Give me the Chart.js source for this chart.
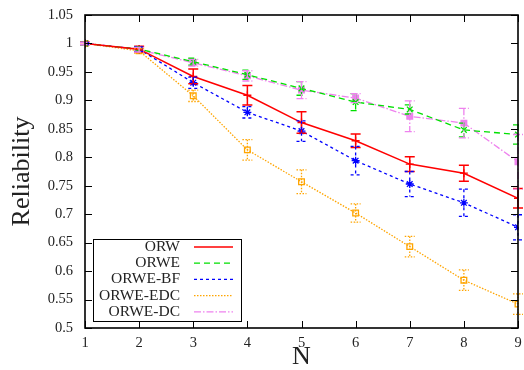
<!DOCTYPE html>
<html>
<head>
<meta charset="utf-8">
<script src="https://cdn.jsdelivr.net/npm/chart.js@4.4.1/dist/chart.umd.min.js"></script>
<style>
  html, body { margin: 0; padding: 0; background: #fff; }
  #wrap { width: 524px; height: 370px; }
</style>
</head>
<body>
<div id="wrap"><canvas id="chart" width="524" height="370"></canvas></div>
<script>
// values
var N = [1, 2, 3, 4, 5, 6, 7, 8, 9];
var yTicks = [0.5, 0.55, 0.6, 0.65, 0.7, 0.75, 0.8, 0.85, 0.9, 0.95, 1, 1.05];

var orw      = [1.000, 0.990, 0.942, 0.909, 0.861, 0.829, 0.788, 0.772, 0.728];
var orwErr   = [0.002, 0.005, 0.013, 0.017, 0.019, 0.012, 0.013, 0.014, 0.017];
var orwe     = [1.000, 0.990, 0.968, 0.945, 0.921, 0.897, 0.884, 0.848, 0.840];
var orweErr  = [0.002, 0.004, 0.006, 0.008, 0.012, 0.015, 0.008, 0.012, 0.017];
var orweBf   = [1.000, 0.990, 0.931, 0.879, 0.846, 0.794, 0.753, 0.720, 0.677];
var orweBfErr  = [0.002, 0.004, 0.010, 0.010, 0.018, 0.025, 0.022, 0.024, 0.022];
var orweEdc  = [1.000, 0.987, 0.908, 0.813, 0.757, 0.702, 0.643, 0.584, 0.542];
var orweEdcErr = [0.002, 0.004, 0.010, 0.018, 0.021, 0.016, 0.018, 0.018, 0.018];
var orweDc   = [1.000, 0.989, 0.966, 0.943, 0.918, 0.904, 0.872, 0.860, 0.792];
var orweDcErr  = [0.002, 0.004, 0.006, 0.009, 0.015, 0.008, 0.027, 0.026, 0.048];

var serif = "'Liberation Serif', 'DejaVu Serif', serif";

function pts(vals) {
    return N.map(function (n, i) { return { x: n, y: vals[i] }; });
}

function series(label, vals, errs, color, dash, width, style, fill) {
    return {
        label: label,
        data: pts(vals),
        errors: errs,
        borderColor: color,
        backgroundColor: fill,
        borderDash: dash,
        borderWidth: width,
        pointStyle: style,
        pointRadius: 4,
        pointBorderColor: color,
        pointBackgroundColor: fill,
        pointBorderWidth: 1.3,
        tension: 0,
        fill: false
    };
}

// vertical error bars with caps, in the dataset's colour and dash
var errorBars = {
    id: 'errorBars',
    afterDatasetsDraw: function (chart) {
        var ctx = chart.ctx;
        var ys = chart.scales.y;
        chart.data.datasets.forEach(function (ds, di) {
            var meta = chart.getDatasetMeta(di);
            ctx.save();
            ctx.strokeStyle = ds.borderColor;
            ctx.lineWidth = ds.borderWidth;
            ctx.setLineDash(ds.borderDash || []);
            meta.data.forEach(function (pt, i) {
                var v = ds.data[i].y, e = ds.errors[i];
                var y1 = ys.getPixelForValue(v + e), y2 = ys.getPixelForValue(v - e);
                ctx.beginPath();
                ctx.moveTo(pt.x, y1); ctx.lineTo(pt.x, y2);
                ctx.moveTo(pt.x - 5, y1); ctx.lineTo(pt.x + 5, y1);
                ctx.moveTo(pt.x - 5, y2); ctx.lineTo(pt.x + 5, y2);
                ctx.stroke();
            });
            ctx.restore();
        });
    }
};

// gnuplot-like frame with inward ticks on all sides, plus the boxed legend
var frame = {
    id: 'frame',
    afterDraw: function (chart) {
        var ctx = chart.ctx, a = chart.chartArea;
        var xs = chart.scales.x, ys = chart.scales.y;
        ctx.save();
        ctx.strokeStyle = '#000';
        ctx.lineWidth = 1;
        ctx.beginPath();
        xs.ticks.forEach(function (t) {
            var x = Math.round(xs.getPixelForValue(t.value)) + 0.5;
            ctx.moveTo(x, a.bottom); ctx.lineTo(x, a.bottom - 7);
            ctx.moveTo(x, a.top); ctx.lineTo(x, a.top + 7);
        });
        ys.ticks.forEach(function (t) {
            var y = Math.round(ys.getPixelForValue(t.value)) + 0.5;
            ctx.moveTo(a.left, y); ctx.lineTo(a.left + 7, y);
            ctx.moveTo(a.right, y); ctx.lineTo(a.right - 7, y);
        });
        ctx.stroke();
        ctx.lineWidth = 1.6;
        ctx.strokeRect(a.left, a.top, a.right - a.left, a.bottom - a.top);

        // legend
        var bx = 93, by = 239, bw = 148, bh = 82;
        ctx.fillStyle = '#fff';
        ctx.fillRect(bx, by, bw, bh);
        ctx.lineWidth = 1;
        ctx.strokeStyle = '#000';
        ctx.strokeRect(bx + 0.5, by + 0.5, bw, bh);
        ctx.font = '15.5px ' + serif;
        ctx.textAlign = 'right';
        ctx.textBaseline = 'middle';
        chart.data.datasets.forEach(function (ds, i) {
            var y = by + 8 + i * 16.2;
            ctx.fillStyle = '#222';
            ctx.fillText(ds.label, 180, y);
            ctx.strokeStyle = ds.borderColor;
            ctx.lineWidth = ds.borderWidth;
            ctx.setLineDash(ds.borderDash || []);
            ctx.beginPath();
            ctx.moveTo(194, y); ctx.lineTo(233, y);
            ctx.stroke();
            ctx.setLineDash([]);
        });
        ctx.restore();
    }
};

var config = {
    type: 'line',
    data: {
        datasets: [
            series('ORW', orw, orwErr, '#ff0000', [], 1.5, 'cross', '#ff0000'),
            series('ORWE', orwe, orweErr, '#00e000', [6, 4], 1.3, 'crossRot', '#00e000'),
            series('ORWE-BF', orweBf, orweBfErr, '#0000ff', [3, 3], 1.3, 'star', '#0000ff'),
            series('ORWE-EDC', orweEdc, orweEdcErr, '#ffa500', [1.5, 1.5], 1.3, 'rect', 'rgba(0,0,0,0)'),
            series('ORWE-DC', orweDc, orweDcErr, '#ee82ee', [7, 2, 1.5, 2], 1.3, 'rect', '#ee82ee')
        ]
    },
    options: {
        responsive: false,
        animation: false,
        devicePixelRatio: 1,
        layout: { padding: { top: 15, right: 6, left: 0, bottom: 0 } },
        plugins: { legend: { display: false }, tooltip: { enabled: false } },
        scales: {
            x: {
                type: 'linear',
                min: 1, max: 9,
                afterFit: function (s) { s.height = 42; s.paddingLeft = 0; s.paddingRight = 0; },
                afterBuildTicks: function (s) { s.ticks = N.map(function (v) { return { value: v }; }); },
                grid: { display: false, drawTicks: false },
                border: { display: false },
                ticks: { padding: 6, color: '#222', font: { family: serif, size: 14.5 } },
                title: { display: true, text: 'N', color: '#222', padding: { top: 0, bottom: 0 },
                         font: { family: serif, size: 26, lineHeight: 1 } }
            },
            y: {
                min: 0.5, max: 1.05,
                afterFit: function (s) { s.width = 85; s.paddingTop = 0; s.paddingBottom = 0; },
                afterBuildTicks: function (s) { s.ticks = yTicks.map(function (v) { return { value: v }; }); },
                grid: { display: false, drawTicks: false },
                border: { display: false },
                ticks: {
                    padding: 12, color: '#222', font: { family: serif, size: 14.5 },
                    callback: function (v) { return String(Number(v.toFixed(2))); }
                },
                title: { display: true, text: 'Reliability', color: '#222', padding: { top: 9, bottom: 0 },
                         font: { family: serif, size: 26, lineHeight: 1 } }
            }
        }
    },
    plugins: [errorBars, frame]
};

new Chart(document.getElementById('chart').getContext('2d'), config);
</script>
</body>
</html>
